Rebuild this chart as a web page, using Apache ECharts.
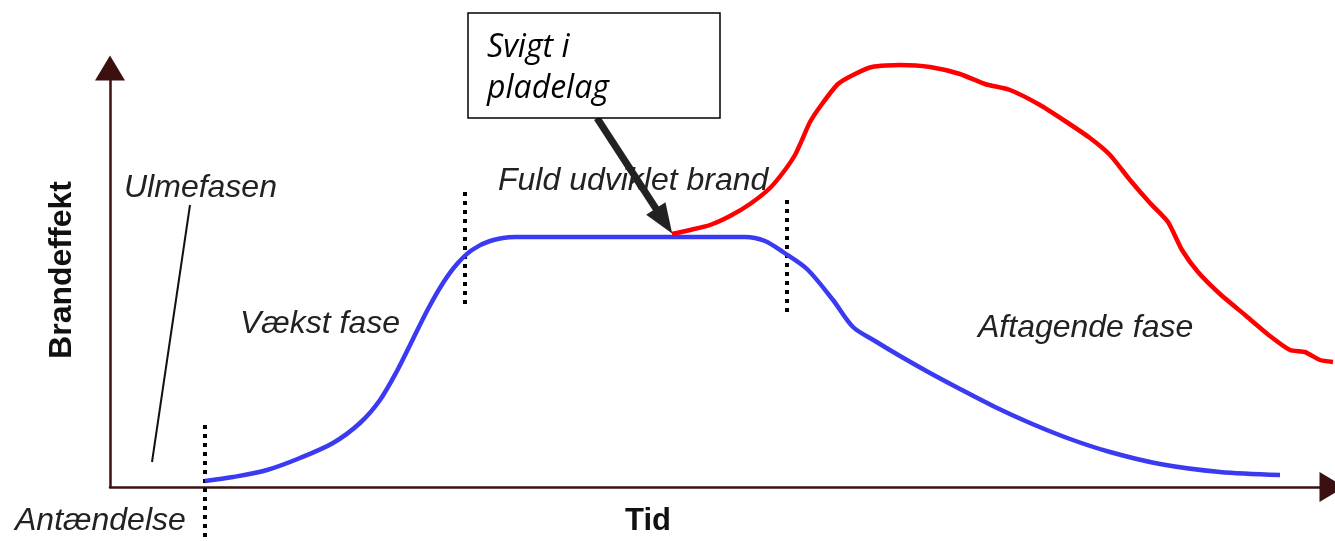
<!DOCTYPE html>
<html>
<head>
<meta charset="utf-8">
<script src="https://cdn.jsdelivr.net/npm/echarts@6/dist/echarts.min.js"></script>
<style>
  html, body { margin: 0; padding: 0; background: #fff; }
  #main { width: 1335px; height: 541px; }
</style>
</head>
<body>
<div id="main"></div>
<script>
// schematic units: time along x, fire effect along y
var normalBrand = [
    [95, 6], [123, 10], [157, 17], [190, 29], [223, 44], [250, 64], [270, 87],
    [287, 116], [303, 148], [318, 178], [333, 204], [347, 223], [362, 237],
    [380, 246], [405, 250], [635, 250], [655, 246], [673, 235], [697, 218],
    [723, 187], [743, 160], [765, 146], [790, 131], [820, 114], [850, 98],
    [885, 80], [920, 64], [960, 48], [1000, 35], [1050, 23], [1110, 15], [1170, 12]
];
var pladeSvigt = [
    [562, 253], [580, 257], [600, 262], [620, 271], [640, 283], [660, 299],
    [675, 317], [685, 332], [692, 347], [700, 365], [712, 383], [728, 403],
    [745, 413], [762, 420], [790, 422], [820, 420], [850, 413], [875, 403],
    [900, 397], [930, 382], [955, 366], [980, 349], [1000, 332], [1020, 307],
    [1040, 284], [1058, 265], [1072, 237], [1088, 215], [1110, 193],
    [1135, 172], [1160, 151], [1180, 137], [1195, 135], [1210, 127], [1223, 125]
];
// phase borders: x, top, bottom
var faseGraenser = [
    [95, 62, -54],
    [355, 295, 182],
    [677, 287, 175]
];
var ulmeStreg = [[80, 282], [42, 25]];
var svigtPil = [[487, 369], [554, 266]];

var series = [{
    type: 'line',
    data: normalBrand,
    smooth: 0.3,
    showSymbol: false,
    clip: false,
    lineStyle: {color: '#3a3af2', width: 4.5},
    z: 3
}, {
    type: 'line',
    data: pladeSvigt,
    smooth: 0.2,
    showSymbol: false,
    clip: false,
    lineStyle: {color: '#ff0000', width: 4.5},
    z: 4
}, {
    type: 'line',
    data: ulmeStreg,
    showSymbol: false,
    clip: false,
    lineStyle: {color: '#111', width: 2},
    markLine: {
        silent: true,
        symbol: ['none', 'triangle'],
        symbolSize: [23, 30],
        label: {show: false},
        lineStyle: {color: '#222', width: 7, type: 'solid'},
        data: [[{coord: svigtPil[0]}, {coord: svigtPil[1]}]]
    },
    z: 5
}];

for (var i = 0; i < faseGraenser.length; i++) {
    var g = faseGraenser[i];
    series.push({
        type: 'line',
        data: [[g[0], g[1]], [g[0], g[2]]],
        showSymbol: false,
        clip: false,
        lineStyle: {color: '#000', width: 4, type: [4, 5]},
        z: 2
    });
}

var labelFont = 'italic 32px "Liberation Sans", Arial, sans-serif';
var boldFont = 'bold 31px "Liberation Sans", Arial, sans-serif';
var boxFont = 'italic 32px "Open Sans", sans-serif';

var option = {
    animation: false,
    backgroundColor: '#fff',
    grid: {left: 110, right: 3, top: 68, bottom: 54},
    xAxis: {
        type: 'value',
        min: 0,
        max: 1222,
        axisLine: {
            show: true,
            symbol: ['none', 'triangle'],
            symbolSize: [30, 25],
            lineStyle: {color: '#3b1010', width: 2.5}
        },
        axisTick: {show: false},
        axisLabel: {show: false},
        splitLine: {show: false}
    },
    yAxis: {
        type: 'value',
        min: 0,
        max: 419,
        axisLine: {
            show: true,
            symbol: ['none', 'triangle'],
            symbolSize: [30, 25],
            lineStyle: {color: '#3b1010', width: 2.5}
        },
        axisTick: {show: false},
        axisLabel: {show: false},
        splitLine: {show: false}
    },
    graphic: [
        {type: 'text', x: 124, y: 188, style: {text: 'Ulmefasen', font: labelFont, fill: '#222', textVerticalAlign: 'middle'}},
        {type: 'text', x: 240, y: 324, style: {text: 'Vækst fase', font: labelFont, fill: '#222', textVerticalAlign: 'middle'}},
        {type: 'text', x: 498, y: 181, style: {text: 'Fuld udviklet brand', font: labelFont, fill: '#222', textVerticalAlign: 'middle'}},
        {type: 'text', x: 978, y: 328, style: {text: 'Aftagende fase', font: labelFont, fill: '#222', textVerticalAlign: 'middle'}},
        {type: 'text', x: 15, y: 521, style: {text: 'Antændelse', font: labelFont, fill: '#222', textVerticalAlign: 'middle'}},
        {type: 'text', x: 648, y: 521, style: {text: 'Tid', font: boldFont, fill: '#111', textAlign: 'center', textVerticalAlign: 'middle'}},
        {type: 'text', x: 62, y: 270, rotation: Math.PI / 2, style: {text: 'Brandeffekt', font: 'bold 32px "Liberation Sans", Arial, sans-serif', fill: '#111', textAlign: 'center', textVerticalAlign: 'middle'}},
        {type: 'rect', shape: {x: 468, y: 13, width: 252, height: 105}, style: {fill: '#fff', stroke: '#000', lineWidth: 1.5}, z: 10},
        {type: 'text', x: 487, y: 48, z: 11, style: {text: 'Svigt i', font: boxFont, fill: '#000', textVerticalAlign: 'middle'}},
        {type: 'text', x: 487, y: 89, z: 11, style: {text: 'pladelag', font: boxFont, fill: '#000', textVerticalAlign: 'middle'}}
    ],
    series: series
};

var chart = echarts.init(document.getElementById('main'));
chart.setOption(option);
</script>
</body>
</html>
